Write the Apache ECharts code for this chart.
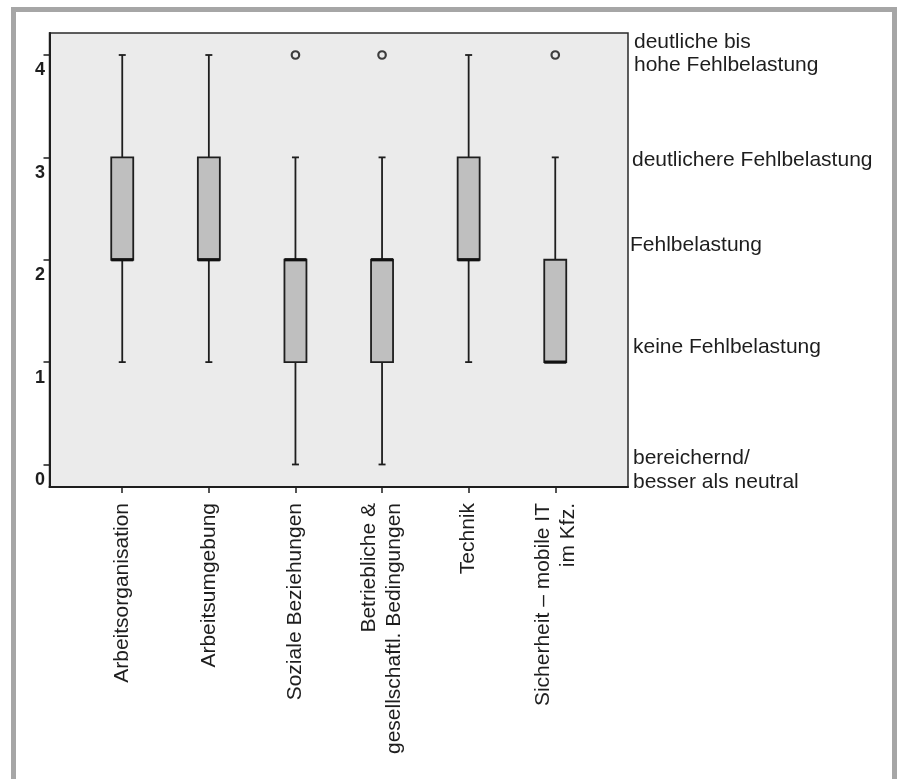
<!DOCTYPE html>
<html>
<head>
<meta charset="utf-8">
<script src="https://cdn.jsdelivr.net/npm/echarts@6/dist/echarts.min.js"></script>
<style>
html,body{margin:0;padding:0;background:#fff;}
#c{width:898px;height:779px;}
</style>
</head>
<body>
<div id="c"></div>
<script>
// ---- data ----
var categories = ['Arbeitsorganisation', 'Arbeitsumgebung', 'Soziale Beziehungen',
  'Betriebliche &\ngesellschaftl. Bedingungen', 'Technik', 'Sicherheit – mobile IT\nim Kfz.'];
var whiskerLow  = [1, 1, 0, 0, 1, 1];
var q1          = [2, 2, 1, 1, 2, 1];
var median      = [2, 2, 2, 2, 2, 1];
var q3          = [3, 3, 2, 2, 3, 2];
var whiskerHigh = [4, 4, 3, 3, 4, 3];
var outlierCategory = [2, 3, 5];
var outlierValue    = [4, 4, 4];
var yTicks = [0, 1, 2, 3, 4];
var scaleLabels = ['deutliche bis\nhohe Fehlbelastung', 'deutlichere Fehlbelastung', 'Fehlbelastung',
  'keine Fehlbelastung', 'bereichernd/\nbesser als neutral'];

// ---- build ----
var catIdx = categories.map(function (_, i) { return i; });
var boxData = catIdx.map(function (i) {
  return [i, whiskerLow[i], q1[i], median[i], q3[i], whiskerHigh[i]];
});
var outlierData = outlierCategory.map(function (c, i) { return [c, outlierValue[i]]; });

var ink = '#1e1e1e';
var FONT = '"Liberation Sans", Arial, sans-serif';

function renderBox(params, api) {
  var x = api.value(0);
  var pLow = api.coord([x, api.value(1)]);
  var pQ1 = api.coord([x, api.value(2)]);
  var pMed = api.coord([x, api.value(3)]);
  var pQ3 = api.coord([x, api.value(4)]);
  var pHigh = api.coord([x, api.value(5)]);
  var cx = pQ1[0];
  var hw = 11, cap = 3.5;
  var lineStyle = { stroke: ink, lineWidth: 1.8, fill: null };
  var children = [];
  if (pLow[1] - pQ1[1] > 0.5) {
    children.push({ type: 'line', shape: { x1: cx, y1: pQ1[1], x2: cx, y2: pLow[1] }, style: lineStyle });
    children.push({ type: 'line', shape: { x1: cx - cap, y1: pLow[1], x2: cx + cap, y2: pLow[1] }, style: lineStyle });
  }
  if (pQ3[1] - pHigh[1] > 0.5) {
    children.push({ type: 'line', shape: { x1: cx, y1: pQ3[1], x2: cx, y2: pHigh[1] }, style: lineStyle });
    children.push({ type: 'line', shape: { x1: cx - cap, y1: pHigh[1], x2: cx + cap, y2: pHigh[1] }, style: lineStyle });
  }
  children.push({ type: 'rect', shape: { x: cx - hw, y: pQ3[1], width: 2 * hw, height: pQ1[1] - pQ3[1] },
    style: { fill: '#bfbfbf', stroke: ink, lineWidth: 1.8 } });
  children.push({ type: 'line', shape: { x1: cx - hw, y1: pMed[1], x2: cx + hw, y2: pMed[1] },
    style: { stroke: '#111', lineWidth: 3.2 } });
  return { type: 'group', children: children };
}

var chart = echarts.init(document.getElementById('c'), null, { renderer: 'canvas' });

var rightTexts = [
  { t: scaleLabels[0], x: 634, y: 54, lh: 23 },
  { t: scaleLabels[1], x: 632, y: 160, lh: 23 },
  { t: scaleLabels[2], x: 630, y: 245, lh: 23 },
  { t: scaleLabels[3], x: 633, y: 347, lh: 23 },
  { t: scaleLabels[4], x: 633, y: 470, lh: 24 }
];

var option = {
  backgroundColor: '#ffffff',
  animation: false,
  grid: {
    left: 49.5, top: 33, right: 270, bottom: 292,
    show: true, backgroundColor: '#ebebeb', borderColor: '#2a2a2a', borderWidth: 1.5,
    containLabel: false, outerBoundsMode: 'none'
  },
  xAxis: {
    type: 'value', min: -0.84, max: 5.84,
    splitLine: { show: false },
    axisLine: { show: true, onZero: false, lineStyle: { color: ink, width: 2 } },
    axisTick: { show: true, customValues: catIdx, length: 6, lineStyle: { color: ink, width: 1.5 } },
    axisLabel: {
      customValues: catIdx, rotate: 90, margin: 16,
      fontFamily: FONT, fontSize: 21, lineHeight: 25, color: ink,
      formatter: function (v) { return categories[Math.round(v)]; }
    }
  },
  yAxis: {
    type: 'value', min: -0.22, max: 4.215,
    splitLine: { show: false },
    axisLine: { show: true, onZero: false, lineStyle: { color: ink, width: 2 } },
    axisTick: { show: true, customValues: yTicks, length: 6, lineStyle: { color: ink, width: 1.5 } },
    axisLabel: {
      customValues: yTicks, margin: 4.5,
      fontFamily: FONT, fontSize: 18, fontWeight: 'bold', color: ink,
      verticalAlign: 'top', lineHeight: 31
    }
  },
  series: [
    {
      type: 'custom', name: 'box', renderItem: renderBox, data: boxData,
      encode: { x: 0, y: [1, 2, 3, 4, 5] }, clip: false, silent: true
    },
    {
      type: 'scatter', name: 'outlier', data: outlierData,
      symbol: 'circle', symbolSize: 7.5,
      itemStyle: { color: '#ebebeb', borderColor: '#111', borderWidth: 2.2 }, silent: true
    }
  ],
  graphic: [
    {
      type: 'polyline', silent: true,
      shape: { points: [[13.5, 790], [13.5, 9.5], [894.5, 9.5], [894.5, 790]] },
      style: { stroke: '#a6a6a6', lineWidth: 5, fill: null }
    }
  ].concat(rightTexts.map(function (r) {
    return {
      type: 'text', silent: true, x: r.x, y: r.y,
      style: { text: r.t, font: '21px ' + FONT, fill: ink, align: 'left', verticalAlign: 'middle', lineHeight: r.lh }
    };
  }))
};
chart.setOption(option);
</script>
</body>
</html>
